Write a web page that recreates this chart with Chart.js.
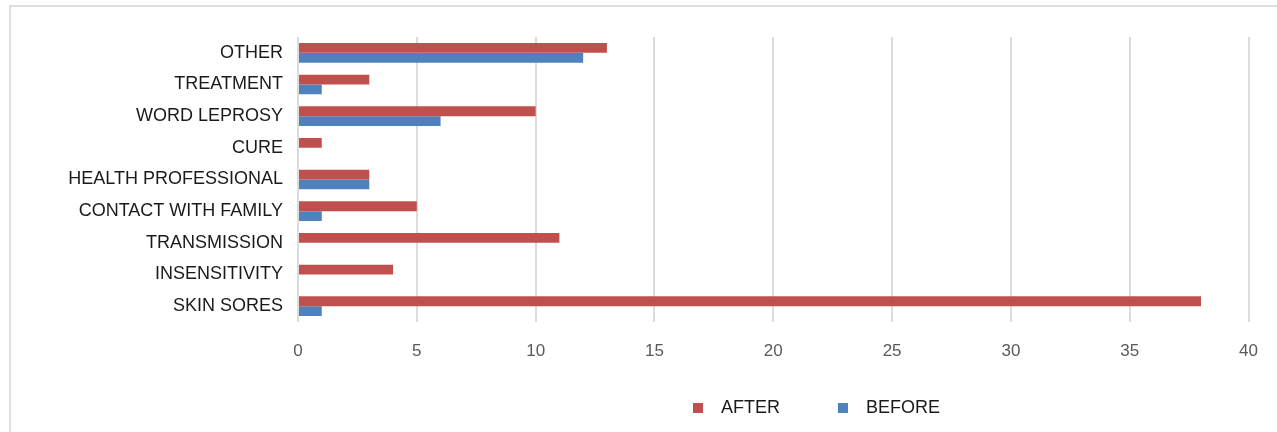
<!DOCTYPE html>
<html>
<head>
<meta charset="utf-8">
<script src="https://cdn.jsdelivr.net/npm/chart.js@4"></script>
<style>
  html, body { margin: 0; padding: 0; background: #fff; }
  #wrap { position: relative; width: 1277px; height: 432px; overflow: hidden; }
  #frame { position: absolute; left: 9px; top: 5px; right: -10px; bottom: -10px;
           border-top: 2px solid #dedede; border-left: 2px solid #dedede; }
  #myChart { position: absolute; left: 0; top: 0; }
  #legenda { position: absolute; top: 397px; left: 693px; font: 18px "Liberation Sans", Arial, sans-serif;
             color: #1a1a1a; white-space: nowrap; line-height: 21px; }
  #legenda span.item { display: inline-block; margin-right: 58px; }
  #legenda span.box { display: inline-block; width: 10px; height: 10px; margin-right: 18px; vertical-align: 0px; }
</style>
</head>
<body>
<div id="wrap">
  <div id="frame"></div>
  <canvas id="myChart" width="1277" height="432"></canvas>
  <div id="legenda"></div>
</div>
<script>
var categorias = ['OTHER', 'TREATMENT', 'WORD LEPROSY', 'CURE', 'HEALTH PROFESSIONAL',
                  'CONTACT WITH FAMILY', 'TRANSMISSION', 'INSENSITIVITY', 'SKIN SORES'];
var depois = [13, 3, 10, 1, 3, 5, 11, 4, 38];
var antes = [12, 1, 6, 0, 3, 1, 0, 0, 1];
var ticksX = [0, 5, 10, 15, 20, 25, 30, 35, 40];

var corDepois = '#c0504d';
var corAntes = '#4f81bd';

const ctx = document.getElementById('myChart');

new Chart(ctx, {
  type: 'bar',
  data: {
    labels: categorias,
    datasets: [{
      label: 'AFTER',
      data: depois,
      backgroundColor: corDepois,
      categoryPercentage: 0.62,
      barPercentage: 1.0
    }, {
      label: 'BEFORE',
      data: antes,
      backgroundColor: corAntes,
      categoryPercentage: 0.62,
      barPercentage: 1.0
    }]
  },
  options: {
    indexAxis: 'y',
    responsive: false,
    animation: false,
    layout: { padding: { top: 37, right: 27, left: 0, bottom: 0 } },
    plugins: {
      legend: { display: false },
      tooltip: { enabled: false }
    },
    scales: {
      x: {
        min: ticksX[0],
        max: ticksX[ticksX.length - 1],
        afterBuildTicks: function (scale) {
          scale.ticks = ticksX.map(function (v) { return { value: v }; });
        },
        afterFit: function (scale) { scale.height = 110; },
        border: { display: false },
        grid: { color: '#dcdcdc', lineWidth: 2, drawTicks: false },
        ticks: {
          padding: 19,
          color: '#595959',
          font: { family: '"Liberation Sans", Arial, sans-serif', size: 17 }
        }
      },
      y: {
        afterFit: function (scale) { scale.width = 298; },
        border: { display: false },
        grid: { display: false, drawTicks: false },
        ticks: {
          padding: 15,
          color: '#1a1a1a',
          font: { family: '"Liberation Sans", Arial, sans-serif', size: 18 }
        }
      }
    }
  }
});

// legenda em HTML, feita a partir dos mesmos nomes e cores
var legenda = document.getElementById('legenda');
[['AFTER', corDepois], ['BEFORE', corAntes]].forEach(function (item) {
  var s = document.createElement('span');
  s.className = 'item';
  var b = document.createElement('span');
  b.className = 'box';
  b.style.background = item[1];
  s.appendChild(b);
  s.appendChild(document.createTextNode(item[0]));
  legenda.appendChild(s);
});
</script>
</body>
</html>
